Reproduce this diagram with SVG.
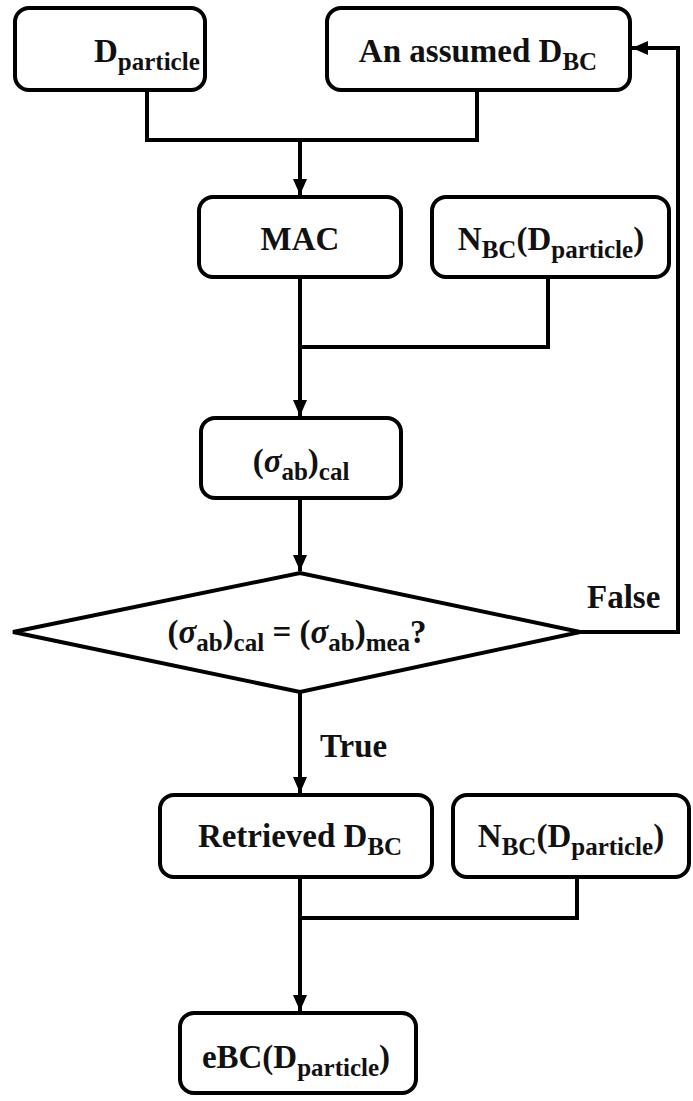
<svg xmlns="http://www.w3.org/2000/svg" width="693" height="1101" viewBox="0 0 693 1101">
<style>
.box{fill:#fff;stroke:#000;stroke-width:4}
.con{fill:none;stroke:#000;stroke-width:4}
text{font-family:'Liberation Serif','Times New Roman',Times,serif;font-weight:700;font-size:33px;fill:#111}
.c{text-anchor:middle}
.s{font-size:25px}
.i{font-style:italic}
</style>
<defs>
<marker id="arr" markerUnits="userSpaceOnUse" markerWidth="16" markerHeight="16" viewBox="0 0 16 16" refX="16" refY="8" orient="auto">
<path d="M0,1 L16,8 L0,15 Z" fill="#000"/>
</marker>
</defs>
<rect width="693" height="1101" fill="#fff"/>
<g id="connectors">
<path class="con" d="M147,90 V140 H477 V90"/>
<path class="con" d="M300,140 V195" marker-end="url(#arr)"/>
<path class="con" d="M548,277 V347 H300"/>
<path class="con" d="M300,277 V416" marker-end="url(#arr)"/>
<path class="con" d="M300,498 V571" marker-end="url(#arr)"/>
<path class="con" d="M580,632 H678 V48 H632" marker-end="url(#arr)"/>
<path class="con" d="M300,692 V793" marker-end="url(#arr)"/>
<path class="con" d="M577,877 V918 H300"/>
<path class="con" d="M300,877 V1011" marker-end="url(#arr)"/>
</g>
<g id="n_dparticle">
<rect class="box" x="15" y="8" width="190" height="82" rx="14"/>
<text x="94" y="62">D<tspan class="s" dy="8">particle</tspan></text>
</g>
<g id="n_assumed">
<rect class="box" x="327" y="8" width="303" height="82" rx="14"/>
<text class="c" x="478" y="62">An assumed D<tspan class="s" dy="8">BC</tspan></text>
</g>
<g id="n_mac">
<rect class="box" x="199" y="197" width="202" height="80" rx="14"/>
<text class="c" x="300" y="250">MAC</text>
</g>
<g id="n_nbc1">
<rect class="box" x="432" y="197" width="237" height="80" rx="14"/>
<text class="c" x="551" y="250">N<tspan class="s" dy="8">BC</tspan><tspan dy="-8">(D</tspan><tspan class="s" dy="8">particle</tspan><tspan dy="-8">)</tspan></text>
</g>
<g id="n_sigma">
<rect class="box" x="201" y="418" width="200" height="80" rx="14"/>
<text class="c" x="301" y="472">(<tspan class="i">σ</tspan><tspan class="s" dy="8">ab</tspan><tspan dy="-8">)</tspan><tspan class="s" dy="8">cal</tspan></text>
</g>
<g id="n_decision">
<polygon class="box" points="13,632 300,573 580,632 300,692"/>
<text class="c" x="297" y="643">(<tspan class="i">σ</tspan><tspan class="s" dy="8">ab</tspan><tspan dy="-8">)</tspan><tspan class="s" dy="8">cal</tspan><tspan dy="-8"> = (</tspan><tspan class="i">σ</tspan><tspan class="s" dy="8">ab</tspan><tspan dy="-8">)</tspan><tspan class="s" dy="8">mea</tspan><tspan dy="-8">?</tspan></text>
<text x="587" y="608">False</text>
<text x="320" y="757">True</text>
</g>
<g id="n_retrieved">
<rect class="box" x="160" y="795" width="272" height="82" rx="14"/>
<text class="c" x="300" y="847">Retrieved D<tspan class="s" dy="8">BC</tspan></text>
</g>
<g id="n_nbc2">
<rect class="box" x="453" y="795" width="236" height="82" rx="14"/>
<text class="c" x="571" y="847">N<tspan class="s" dy="8">BC</tspan><tspan dy="-8">(D</tspan><tspan class="s" dy="8">particle</tspan><tspan dy="-8">)</tspan></text>
</g>
<g id="n_ebc">
<rect class="box" x="180" y="1013" width="236" height="80" rx="14"/>
<text class="c" x="296" y="1068">eBC(D<tspan class="s" dy="8">particle</tspan><tspan dy="-8">)</tspan></text>
</g>
</svg>
